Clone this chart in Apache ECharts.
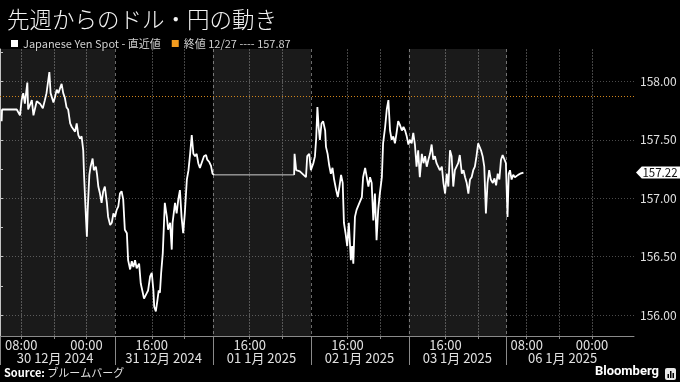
<!DOCTYPE html>
<html><head><meta charset="utf-8">
<script src="https://cdn.jsdelivr.net/npm/echarts@6/dist/echarts.min.js"></script>
<style>html,body{margin:0;padding:0;background:#000}#c{width:680px;height:382px}</style>
</head><body><div id="c"></div>
<script>
// ---- data (x = trading hours since chart start, weekend compressed) ----
const hours = [
0.4,0.5,2.5,4.1,4.9,5.3,5.7,6.1,6.7,6.9,
7.8,8.2,9.0,9.8,10.5,11.0,11.4,12.1,12.4,13.1,
13.5,13.9,14.3,15.1,15.5,15.9,16.3,16.7,17.2,17.6,
18.4,18.8,19.2,19.6,20.0,20.4,20.6,20.8,21.1,21.3,
21.5,21.9,22.2,22.7,23.0,23.5,23.8,24.1,24.5,24.9,
25.3,25.7,26.2,26.5,27.0,27.4,27.8,28.2,28.6,29.0,
29.4,29.8,30.2,30.6,31.1,31.4,31.9,32.3,32.7,33.1,
33.5,34.1,34.5,35.0,35.3,36.0,36.3,36.8,37.2,37.6,
37.8,38.2,38.6,38.9,39.2,39.5,39.9,40.2,40.4,40.9,
41.2,41.7,42.1,42.3,42.9,43.3,43.7,44.1,44.5,44.9,
45.3,45.8,46.2,46.6,47.0,47.4,47.8,48.2,48.6,49.0,
49.4,50.0,50.5,50.8,51.3,51.7,52.1,52.5,
62.0,
72.1,72.2,72.6,73.5,75.0,75.3,75.8,76.2,76.8,77.2,
77.5,77.8,78.1,78.4,78.8,79.2,79.7,79.9,80.3,80.7,
81.1,81.5,81.9,82.4,82.8,83.2,83.6,84.0,84.3,84.7,
85.1,85.5,86.0,86.3,86.6,87.0,87.4,88.1,88.7,89.0,
89.5,89.9,90.3,90.7,91.1,91.5,91.9,92.3,92.7,93.1,
93.6,93.9,94.4,94.8,95.2,95.6,96.0,96.4,96.8,97.2,
97.6,98.0,98.5,98.9,99.3,99.7,100.1,100.5,100.9,101.3,
101.7,102.1,102.5,102.9,103.4,103.8,104.2,104.6,105.0,105.4,
105.8,106.2,106.6,107.0,107.4,107.8,108.3,108.7,109.1,109.5,
109.9,110.3,110.7,111.1,111.5,111.9,112.3,112.7,113.2,113.6,
114.0,114.4,114.8,115.2,115.6,116.0,116.4,116.8,117.2,117.5,
117.9,118.3,118.7,119.1,119.5,119.9,120.3,120.8,121.2,121.6,
122.0,122.4,122.8,123.2,123.6,124.0,124.4,124.7,125.0,125.4,
125.8,126.2,126.6,127.0,127.5,127.9,128.3
];
const prices = [
157.66,157.76,157.76,157.76,157.71,157.84,157.90,157.81,157.99,157.76,
157.84,157.71,157.83,157.81,157.77,157.84,157.90,158.08,157.90,157.82,
157.87,157.93,157.90,157.98,157.90,157.86,157.78,157.76,157.64,157.61,
157.57,157.64,157.54,157.51,157.53,157.41,157.20,157.04,156.81,156.67,
156.90,157.20,157.27,157.34,157.24,157.27,157.20,157.10,157.04,156.96,
157.06,157.10,156.96,156.84,156.77,156.79,156.87,156.84,156.90,156.93,
157.04,157.06,156.99,156.73,156.70,156.47,156.39,156.46,156.41,156.47,
156.40,156.44,156.27,156.19,156.14,156.19,156.21,156.33,156.36,156.21,
156.07,156.03,156.13,156.21,156.19,156.36,156.53,156.79,156.96,156.84,
156.73,156.79,156.56,156.79,156.96,156.87,156.99,157.07,156.84,156.70,
156.87,157.16,157.24,157.38,157.54,157.38,157.36,157.38,157.30,157.26,
157.30,157.36,157.37,157.33,157.31,157.28,157.21,157.20,
null,
157.20,157.38,157.24,157.23,157.18,157.36,157.38,157.24,157.30,157.36,
157.51,157.78,157.61,157.50,157.64,157.66,157.58,157.44,157.38,157.28,
157.21,157.26,157.16,157.07,157.01,157.10,157.20,157.13,156.79,156.70,
156.59,156.79,156.47,156.59,156.44,156.84,156.90,156.96,157.01,157.18,
157.26,157.27,157.10,157.18,157.13,156.81,157.04,156.64,156.90,157.04,
157.18,157.47,157.61,157.76,157.84,157.58,157.50,157.53,157.47,157.56,
157.66,157.63,157.58,157.61,157.58,157.53,157.46,157.50,157.47,157.56,
157.46,157.27,157.41,157.18,157.38,157.30,157.36,157.27,157.33,157.38,
157.46,157.33,157.36,157.30,157.27,157.24,157.27,157.13,157.04,157.21,
157.10,157.41,157.36,157.10,157.24,157.27,157.30,157.37,157.21,157.24,
157.18,157.13,157.04,157.16,157.18,157.24,157.27,157.36,157.47,157.48,
157.41,157.36,157.27,156.87,157.13,157.24,157.16,157.13,157.17,157.11,
157.21,157.16,157.33,157.37,157.36,157.30,156.84,157.21,157.24,157.16,
157.20,157.18,157.17,157.20,157.21,157.20,157.22
];
const gapHours = [52.5, 72.1];
const gapPrices = [157.20, 157.20];
const closeRef = 157.87;
const closeRefDate = '12/27';

const timeTickHours = [5.2, 13.2, 21.2, 37.2, 45.2, 61.2, 69.2, 85.2, 93.2, 109.2, 117.2, 129.1, 137.1, 145.1];
const timeLabelHours = [5.2, 21.2, 37.2, 61.2, 85.2, 109.2, 129.1, 145.1];
const timeLabelTexts = ['08:00', '00:00', '16:00', '16:00', '16:00', '16:00', '08:00', '00:00'];
const dayBoundaryHours = [0, 28.2, 52.2, 76.2, 100.2, 124.2];
const dayLabelHours = [13.5, 40.1, 64.1, 88.1, 112.1, 137.9];
const dayLabelTexts = ['30 12月 2024', '31 12月 2024', '01 1月 2025', '02 1月 2025', '03 1月 2025', '06 1月 2025'];
const shadedDays = [[0, 28.2], [52.2, 76.2], [100.2, 124.2]];
const priceLabelValues = [156, 156.5, 157, 157.5, 158];
const priceMinorValues = [156.25, 156.75, 157.25, 157.75, 158.25];
const xMin = 0, xMax = 155.4, yMin = 155.82, yMax = 158.278;

const seriesName = 'Japanese Yen Spot - 直近値';
const refName = '終値 ' + closeRefDate + ' ---- ' + closeRef.toFixed(2);
const FONT = "'Noto Sans CJK JP', 'Noto Sans', sans-serif";

const mainData = hours.map((h, i) => [h, prices[i]]);
const gapData = gapHours.map((h, i) => [h, gapPrices[i]]);
let lastPrice = null;
for (let i = prices.length - 1; i >= 0; i--) { if (prices[i] != null) { lastPrice = prices[i]; break; } }

const chart = echarts.init(document.getElementById('c'));
chart.setOption({
  backgroundColor: '#000',
  animation: false,
  textStyle: { fontFamily: FONT },
  title: {
    text: '先週からのドル・円の動き', left: 2, top: 3,
    textStyle: { color: '#f4f4f4', fontSize: 22.5, fontWeight: 300, fontFamily: FONT }
  },
  legend: {
    left: 6, top: 33, itemWidth: 7, itemHeight: 7, itemGap: 11, icon: 'rect',
    selectedMode: false,
    textStyle: { color: '#d0d0d0', fontSize: 11, fontFamily: FONT },
    data: [seriesName, refName]
  },
  grid: { left: 0, right: 46, top: 49, bottom: 46, containLabel: false, outerBoundsMode: 'none' },
  xAxis: [{
    type: 'value', min: xMin, max: xMax, position: 'bottom',
    axisLine: { show: true, lineStyle: { color: '#8a8a8a', width: 1 } },
    axisTick: { show: true, customValues: timeTickHours, length: 3, lineStyle: { color: '#8a8a8a' } },
    axisLabel: {
      show: true, customValues: timeLabelHours, margin: 3, color: '#e0e0e0', fontSize: 13, fontFamily: FONT,
      formatter: v => { const i = timeLabelHours.findIndex(h => Math.abs(h - v) < 1e-6); return i >= 0 ? timeLabelTexts[i] : ''; }
    },
    splitLine: { show: true, lineStyle: { color: '#444444', width: 1, type: [2, 1] } }
  }, {
    type: 'value', min: xMin, max: xMax, position: 'bottom',
    axisLine: { show: false },
    axisTick: { show: true, customValues: dayBoundaryHours, length: 29, lineStyle: { color: '#8a8a8a' } },
    axisLabel: {
      show: true, customValues: dayLabelHours, margin: 16, color: '#e0e0e0', fontSize: 13, fontFamily: FONT,
      formatter: v => { const i = dayLabelHours.findIndex(h => Math.abs(h - v) < 1e-6); return i >= 0 ? dayLabelTexts[i] : ''; }
    },
    splitLine: { show: true, lineStyle: { color: '#6a6a6a', width: 1, type: [3, 3] } }
  }],
  yAxis: [{
    type: 'value', min: yMin, max: yMax, position: 'right',
    axisLine: { show: true, lineStyle: { color: '#bbbbbb', width: 1 } },
    axisTick: { show: true, customValues: priceLabelValues, length: 3, lineStyle: { color: '#bbbbbb' } },
    axisLabel: {
      show: true, customValues: priceLabelValues, margin: 6, color: '#e0e0e0', fontSize: 12, fontFamily: FONT,
      formatter: v => v.toFixed(2)
    },
    splitLine: { show: true, lineStyle: { color: '#4a4a4a', width: 1, type: [1, 2] } }
  }, {
    type: 'value', min: yMin, max: yMax, position: 'right',
    axisLine: { show: false },
    axisTick: { show: true, customValues: priceMinorValues, length: 3, lineStyle: { color: '#bbbbbb' } },
    axisLabel: { show: false },
    splitLine: { show: false }
  }],
  series: [{
    name: 'gap', type: 'line', data: gapData, showSymbol: false, z: 2,
    lineStyle: { color: '#cfcfcf', width: 1 },
    markArea: {
      silent: true,
      itemStyle: { color: 'rgba(255,255,255,0.1)' },
      data: shadedDays.map(d => [{ xAxis: d[0] }, { xAxis: d[1] }])
    }
  }, {
    name: refName, type: 'line', data: [], color: '#f39c1f', z: 3,
    markLine: {
      silent: true, symbol: ['none', 'none'],
      label: { show: false },
      lineStyle: { color: '#d0841c', width: 1, type: [1, 2] },
      data: [{ yAxis: closeRef }]
    }
  }, {
    name: seriesName, type: 'line', data: mainData, showSymbol: false, connectNulls: false, z: 5,
    color: '#ffffff',
    lineStyle: { color: '#ffffff', width: 1.8 },
    markPoint: {
      silent: true,
      symbol: 'path://M0,6L6,0L46,0L46,12L6,12Z',
      symbolSize: [44, 12], symbolKeepAspect: false, symbolOffset: [24, 0],
      itemStyle: { color: '#ffffff' },
      label: { show: true, position: 'inside', color: '#111', fontSize: 11.5, fontFamily: FONT, offset: [2, 0],
        formatter: () => lastPrice.toFixed(2) },
      data: [{ coord: [xMax, lastPrice] }]
    }
  }],
  graphic: [{
    type: 'text', left: 4, top: 367,
    style: {
      text: '{b|Source:} ブルームバーグ', fill: '#e0e0e0', fontSize: 11, fontFamily: FONT,
      rich: { b: { fontWeight: 'bold', fill: '#ffffff', fontSize: 11, fontFamily: FONT } }
    }
  }, {
    type: 'text', right: 21, top: 365,
    style: { text: 'Bloomberg', fill: '#ffffff', fontSize: 13, fontWeight: 'bold', fontFamily: 'Roboto, sans-serif' }
  }, {
    type: 'group', left: 665, top: 368,
    children: [
      { type: 'rect', shape: { x: 0, y: 0, width: 11, height: 12, r: 2 }, style: { fill: '#e8e8e8' } },
      { type: 'rect', shape: { x: 2.5, y: 6, width: 1.5, height: 4 }, style: { fill: '#000' } },
      { type: 'rect', shape: { x: 5, y: 3, width: 1.5, height: 7 }, style: { fill: '#000' } },
      { type: 'rect', shape: { x: 7.5, y: 5, width: 1.5, height: 5 }, style: { fill: '#000' } }
    ]
  }]
});
</script>
</body></html>
